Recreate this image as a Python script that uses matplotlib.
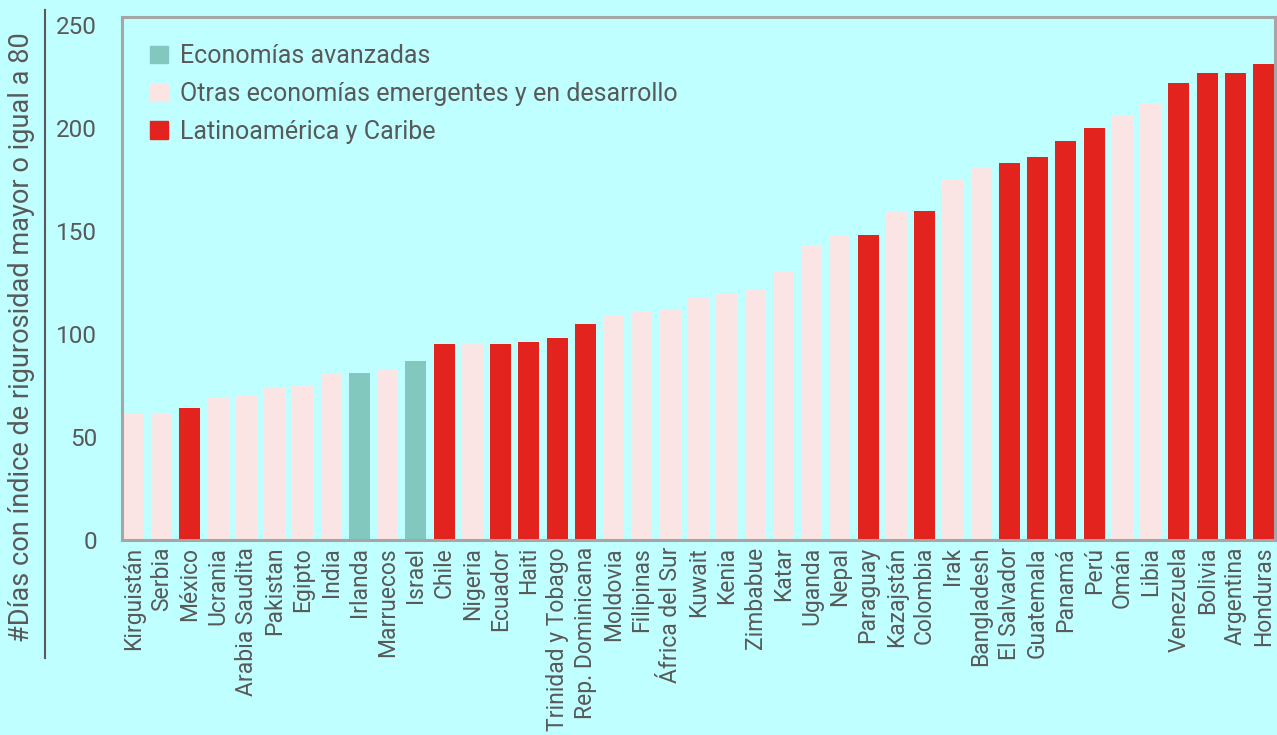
import matplotlib.pyplot as plt
from matplotlib.patches import Patch
from matplotlib.lines import Line2D

plt.rcParams['font.family'] = ['Roboto', 'DejaVu Sans']

# datos
paises = ['Kirguistán', 'Serbia', 'México', 'Ucrania', 'Arabia Saudita', 'Pakistan',
          'Egipto', 'India', 'Irlanda', 'Marruecos', 'Israel', 'Chile', 'Nigeria',
          'Ecuador', 'Haiti', 'Trinidad y Tobago', 'Rep. Dominicana', 'Moldovia',
          'Filipinas', 'África del Sur', 'Kuwait', 'Kenia', 'Zimbabue', 'Katar',
          'Uganda', 'Nepal', 'Paraguay', 'Kazajstán', 'Colombia', 'Irak', 'Bangladesh',
          'El Salvador', 'Guatemala', 'Panamá', 'Perú', 'Omán', 'Libia', 'Venezuela',
          'Bolivia', 'Argentina', 'Honduras']
dias = [61, 61, 64, 69, 70, 74, 75, 81, 81, 83, 87, 95, 95,
        95, 96, 98, 105, 109, 111, 112, 118, 120, 122, 130,
        143, 148, 148, 160, 160, 175, 181, 183, 186, 194, 200, 206, 212, 222,
        227, 227, 231]
# grupo: A = avanzadas, O = otras emergentes, L = Latinoamérica
grupo = ['O', 'O', 'L', 'O', 'O', 'O', 'O', 'O', 'A', 'O', 'A', 'L', 'O',
         'L', 'L', 'L', 'L', 'O', 'O', 'O', 'O', 'O', 'O', 'O',
         'O', 'O', 'L', 'O', 'L', 'O', 'O', 'L', 'L', 'L', 'L', 'O', 'O', 'L',
         'L', 'L', 'L']
nombres_grupo = {'A': 'Economías avanzadas',
                 'O': 'Otras economías emergentes y en desarrollo',
                 'L': 'Latinoamérica y Caribe'}

colores = {'A': '#82c8bf', 'O': '#fbe5e4', 'L': '#e2231e'}
fondo = '#bfffff'
gris = '#595959'
borde = '#a6a6a6'

fig = plt.figure(figsize=(12.77, 7.35), dpi=100, facecolor=fondo)
ax = fig.add_axes([122 / 1277, 1 - 540 / 735, (1275 - 122) / 1277, (540 - 17) / 735])
ax.set_facecolor(fondo)

x = range(len(paises))
ax.bar(x, dias, width=0.74, color=[colores[g] for g in grupo], linewidth=0)

ax.set_xlim(-0.4, len(paises) - 0.6)
ax.set_ylim(0, 254)
ax.set_yticks([0, 50, 100, 150, 200, 250])
ax.set_xticks(list(x))
ax.set_xticklabels(paises, rotation=90, fontsize=16.5, color=gris)
ax.tick_params(axis='y', length=0, pad=18, labelsize=17.5, labelcolor=gris)
ax.tick_params(axis='x', length=0, pad=5)
for s in ax.spines.values():
    s.set_color(borde)
    s.set_linewidth(2.2)

# etiqueta del eje y con línea al lado
fig.text(22 / 1277, 1 - 337 / 735, '#Días con índice de rigurosidad mayor o igual a 80',
         rotation=90, ha='center', va='center', fontsize=19.5, color=gris)
fig.add_artist(Line2D([45 / 1277, 45 / 1277], [1 - 10 / 735, 1 - 658 / 735],
                      transform=fig.transFigure, color=gris, linewidth=1.5))

handles = [Patch(color=colores[k], label=nombres_grupo[k]) for k in ['A', 'O', 'L']]
ax.legend(handles=handles, loc='upper left', frameon=False, fontsize=18,
          labelcolor=gris, handlelength=0.7, handleheight=0.7, handletextpad=0.5,
          labelspacing=0.55, bbox_to_anchor=(0.016, 0.967), borderaxespad=0)

fig.savefig('out.png', dpi=100, facecolor=fondo)
